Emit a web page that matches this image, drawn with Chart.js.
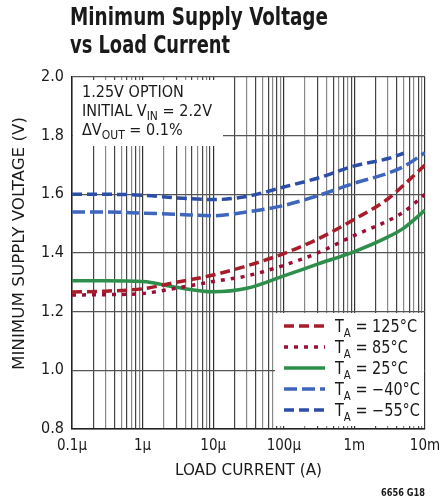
<!DOCTYPE html>
<html>
<head>
<meta charset="utf-8">
<script src="https://cdn.jsdelivr.net/npm/chart.js@4/dist/chart.umd.min.js"></script>
<style>
  html, body { margin: 0; padding: 0; background: #fff; }
  #wrap { width: 441px; height: 499px; }
</style>
</head>
<body>
<div id="wrap"><canvas id="vminChart" width="441" height="499"></canvas></div>
<script>
// values (V vs A)
const loadCurrent = [1e-7, 3e-7, 1e-6, 3e-6, 1e-5, 3e-5, 1e-4, 3e-4, 1e-3, 3e-3, 5e-3, 1e-2];
const vmin125 = [1.267, 1.270, 1.278, 1.300, 1.325, 1.356, 1.398, 1.447, 1.515, 1.585, 1.632, 1.700];
const vmin85  = [1.257, 1.258, 1.262, 1.280, 1.303, 1.322, 1.358, 1.400, 1.460, 1.510, 1.540, 1.600];
const vmin25  = [1.305, 1.305, 1.303, 1.283, 1.268, 1.280, 1.322, 1.362, 1.405, 1.455, 1.485, 1.546];
const vminM40 = [1.540, 1.540, 1.536, 1.532, 1.527, 1.540, 1.562, 1.595, 1.638, 1.672, 1.695, 1.742];
const vminM55 = [1.600, 1.600, 1.597, 1.588, 1.582, 1.593, 1.625, 1.655, 1.697, 1.722, 1.740, null];

const xDecades = [1e-7, 1e-6, 1e-5, 1e-4, 1e-3, 1e-2];
const xTickLabels = ["0.1\u00b5", "1\u00b5", "10\u00b5", "100\u00b5", "1m", "10m"];
const legendTemps = ["125\u00b0C", "85\u00b0C", "25\u00b0C", "\u221240\u00b0C", "\u221255\u00b0C"];

const FONT = "'Liberation Sans Narrow', 'DejaVu Sans Condensed', sans-serif";

function pts(arr) {
    return loadCurrent.map((x, i) => ({ x: x, y: arr[i] }));
}

const series = [
    { data: vmin125, color: "#a71d2a", dash: [10, 5] },
    { data: vmin85,  color: "#9c0f34", dash: [4, 6] },
    { data: vmin25,  color: "#2e8f4c", dash: [] },
    { data: vminM40, color: "#3f66bd", dash: [13, 5] },
    { data: vminM55, color: "#2c4ea6", dash: [10, 5] }
];

// width of rich text at natural size
function richWidth(ctx, parts, size, weight) {
    let w = 0;
    parts.forEach(p => {
        ctx.font = (weight || "") + " " + (p[1] ? Math.round(size * 0.72) : size) + "px " + FONT;
        w += ctx.measureText(p[0]).width;
    });
    return w;
}

// text with subscripts, squeezed horizontally by sx
function drawRich(ctx, parts, x, y, size, sx, weight) {
    ctx.save();
    ctx.translate(x, y);
    ctx.scale(sx, 1);
    let cx = 0;
    parts.forEach(p => {
        if (p[1]) {
            ctx.font = (weight || "") + " " + Math.round(size * 0.72) + "px " + FONT;
            ctx.fillText(p[0], cx, size * 0.28);
        } else {
            ctx.font = (weight || "") + " " + size + "px " + FONT;
            ctx.fillText(p[0], cx, 0);
        }
        cx += ctx.measureText(p[0]).width;
    });
    ctx.restore();
}

// draw plain text fitted to a target width
function fitText(ctx, text, x, y, size, width, weight) {
    ctx.font = (weight || "") + " " + size + "px " + FONT;
    const sx = width / ctx.measureText(text).width;
    drawRich(ctx, [[text, false]], x, y, size, sx, weight);
}

const decorPlugin = {
    id: "decor",
    beforeDatasetsDraw(chart) {
        const ctx = chart.ctx;
        const a = chart.chartArea;
        ctx.save();
        ctx.textBaseline = "alphabetic";
        ctx.textAlign = "left";
        // note box top left
        ctx.fillStyle = "#fff";
        ctx.fillRect(a.left + 1, a.top + 3, 150, 66);
        ctx.fillStyle = "#1a1a1a";
        const line2 = [["INITIAL V", false], ["IN", true], [" = 2.2V", false]];
        const sxNote = 130 / richWidth(ctx, line2, 16);
        drawRich(ctx, [["1.25V OPTION", false]], 82, 97, 16, sxNote);
        drawRich(ctx, line2, 82, 116, 16, sxNote);
        drawRich(ctx, [["\u0394V", false], ["OUT", true], [" = 0.1%", false]], 82, 135, 16, sxNote);

        // legend box bottom right
        const lx = 275, ly = 313;
        ctx.fillStyle = "#fff";
        ctx.fillRect(lx, ly, a.right - lx - 1, a.bottom - ly - 3);
        const row0 = [["T", false], ["A", true], [" = " + legendTemps[0], false]];
        const sxLeg = 82 / richWidth(ctx, row0, 17);
        series.forEach((s, i) => {
            const yy = 326 + i * 21;
            ctx.strokeStyle = s.color;
            ctx.lineWidth = 3.5;
            ctx.setLineDash(s.dash);
            ctx.beginPath();
            ctx.moveTo(284, yy);
            ctx.lineTo(325, yy);
            ctx.stroke();
            ctx.setLineDash([]);
            ctx.fillStyle = "#1a1a1a";
            drawRich(ctx, [["T", false], ["A", true], [" = " + legendTemps[i], false]], 335, yy + 6, 17, sxLeg);
        });
        ctx.restore();
    },
    afterDraw(chart) {
        const ctx = chart.ctx;
        ctx.save();
        ctx.fillStyle = "#1a1a1a";
        ctx.textAlign = "left";
        fitText(ctx, "Minimum Supply Voltage", 70, 25, 25, 258, "bold");
        fitText(ctx, "vs Load Current", 70, 53, 25, 160, "bold");

        fitText(ctx, "LOAD CURRENT (A)", 175, 475, 16, 147);

        ctx.save();
        ctx.translate(24, 370);
        ctx.rotate(-Math.PI / 2);
        fitText(ctx, "MINIMUM SUPPLY VOLTAGE (V)", 0, 0, 16, 253);
        ctx.restore();

        fitText(ctx, "6656 G18", 381, 496, 10, 44, "bold");
        ctx.restore();
    }
};

new Chart(document.getElementById("vminChart").getContext("2d"), {
    type: "line",
    data: {
        datasets: series.map(s => ({
            data: pts(s.data),
            borderColor: s.color,
            borderWidth: 3.5,
            borderDash: s.dash,
            pointRadius: 0,
            fill: false,
            cubicInterpolationMode: "monotone",
            spanGaps: false
        }))
    },
    options: {
        responsive: false,
        animation: false,
        layout: { padding: { left: 30, right: 16, top: 77, bottom: 40 } },
        plugins: { legend: { display: false }, tooltip: { enabled: false } },
        scales: {
            x: {
                type: "logarithmic",
                min: 1e-7,
                max: 1e-2,
                afterBuildTicks: scale => {
                    const t = [];
                    xDecades.forEach((d, i) => {
                        if (i === xDecades.length - 1) { t.push({ value: d }); return; }
                        for (let k = 1; k <= 9; k++) t.push({ value: k * d });
                    });
                    scale.ticks = t;
                },
                afterFit: scale => {
                    scale.height = 30;
                    scale.paddingLeft = 0;
                    scale.paddingRight = 0;
                },
                ticks: {
                    autoSkip: false,
                    maxRotation: 0,
                    padding: 8,
                    color: "#1a1a1a",
                    font: { family: FONT, size: 15 },
                    callback: function (value) {
                        const i = xDecades.findIndex(d => Math.abs(value / d - 1) < 1e-6);
                        return i >= 0 ? xTickLabels[i] : "";
                    }
                },
                grid: {
                    drawTicks: false,
                    color: ctx => {
                        const v = ctx.tick ? ctx.tick.value : 0;
                        const isDec = xDecades.some(d => Math.abs(v / d - 1) < 1e-6);
                        return isDec ? "#333" : (ctx.index % 2 ? "#444" : "#888");
                    },
                    lineWidth: 1.2
                },
                border: { display: true, color: "#222", width: 1.5 }
            },
            y: {
                min: 0.8,
                max: 2.0,
                afterFit: scale => { scale.width = 42; },
                ticks: {
                    stepSize: 0.2,
                    padding: 8,
                    color: "#1a1a1a",
                    font: { family: FONT, size: 16 },
                    callback: v => v.toFixed(1)
                },
                grid: { drawTicks: false, color: "#555", lineWidth: 1.2 },
                border: { display: true, color: "#222", width: 1.5 }
            }
        }
    },
    plugins: [decorPlugin]
});
</script>
</body>
</html>
